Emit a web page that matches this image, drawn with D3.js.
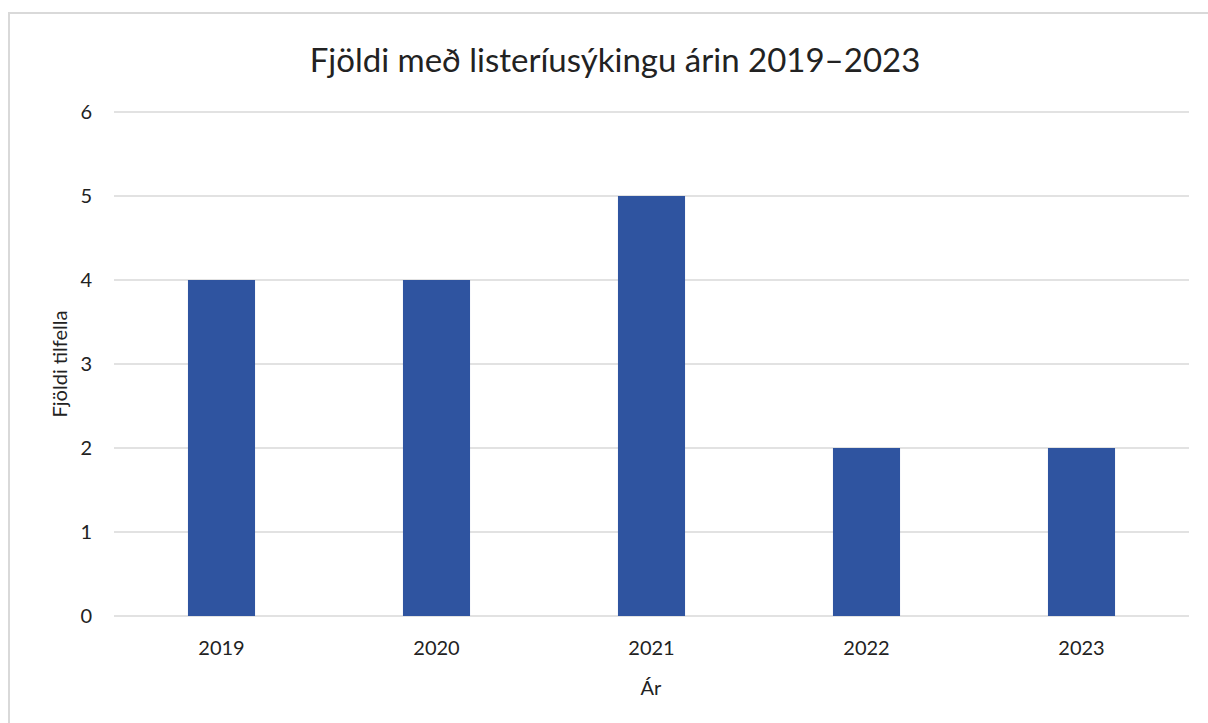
<!DOCTYPE html>
<html>
<head>
<meta charset="utf-8">
<script src="https://cdn.jsdelivr.net/npm/d3@7"></script>
<style>
  html, body { margin: 0; padding: 0; background: #fff; }
  svg { display: block; font-family: Lato, "Open Sans", sans-serif; }
</style>
</head>
<body>
<svg id="chart" width="1208" height="723"></svg>
<script>
// Fjöldi með listeríusýkingu 2019–2023
const years = ["2019", "2020", "2021", "2022", "2023"];
const cases = [4, 4, 5, 2, 2];
const yTicks = [0, 1, 2, 3, 4, 5, 6];

const svg = d3.select("#chart");

// ytri rammi
svg.append("rect")
  .attr("x", 9).attr("y", 13).attr("width", 1210).attr("height", 720)
  .attr("fill", "#fff").attr("stroke", "#d9d9d9").attr("stroke-width", 2);

const plotL = 114, plotR = 1189, plotT = 112, plotB = 616;

// step 215px, súlubreidd ~67px
const x = d3.scaleBand().domain(years).range([plotL, plotR]).paddingInner(0.688).paddingOuter(0.344);
const y = d3.scaleLinear().domain([0, 6]).range([plotB, plotT]);

// gridlínur
svg.append("g").selectAll("line").data(yTicks).join("line")
  .attr("x1", plotL).attr("x2", plotR)
  .attr("y1", d => y(d)).attr("y2", d => y(d))
  .attr("stroke", "#d9d9d9").attr("stroke-width", 1.5);

// súlur
svg.append("g").selectAll("rect").data(years).join("rect")
  .attr("x", (d) => x(d))
  .attr("width", x.bandwidth())
  .attr("y", (d, i) => y(cases[i]))
  .attr("height", (d, i) => y(0) - y(cases[i]))
  .attr("fill", "#2f54a0");

// y-ás merki
svg.append("g").selectAll("text").data(yTicks).join("text")
  .attr("x", 92).attr("y", d => y(d)).attr("dy", "0.35em")
  .attr("text-anchor", "end").style("font-size", "20px").style("fill", "#222")
  .text(d => d);

// x-ás merki
svg.append("g").selectAll("text").data(years).join("text")
  .attr("x", d => x(d) + x.bandwidth() / 2).attr("y", 648).attr("dy", "0.35em")
  .attr("text-anchor", "middle").style("font-size", "20px").style("fill", "#222")
  .text(d => d);

svg.append("text")
  .attr("x", 615).attr("y", 60).attr("dy", "0.35em")
  .attr("text-anchor", "middle").style("font-size", "33px").style("fill", "#222")
  .text("Fjöldi með listeríusýkingu árin 2019–2023");

svg.append("text")
  .attr("transform", `translate(60,364) rotate(-90)`).attr("dy", "0.35em")
  .attr("text-anchor", "middle").style("font-size", "20px").style("fill", "#222")
  .text("Fjöldi tilfella");

svg.append("text")
  .attr("x", 651).attr("y", 688).attr("dy", "0.35em")
  .attr("text-anchor", "middle").style("font-size", "20px").style("fill", "#222")
  .text("Ár");
</script>
</body>
</html>
